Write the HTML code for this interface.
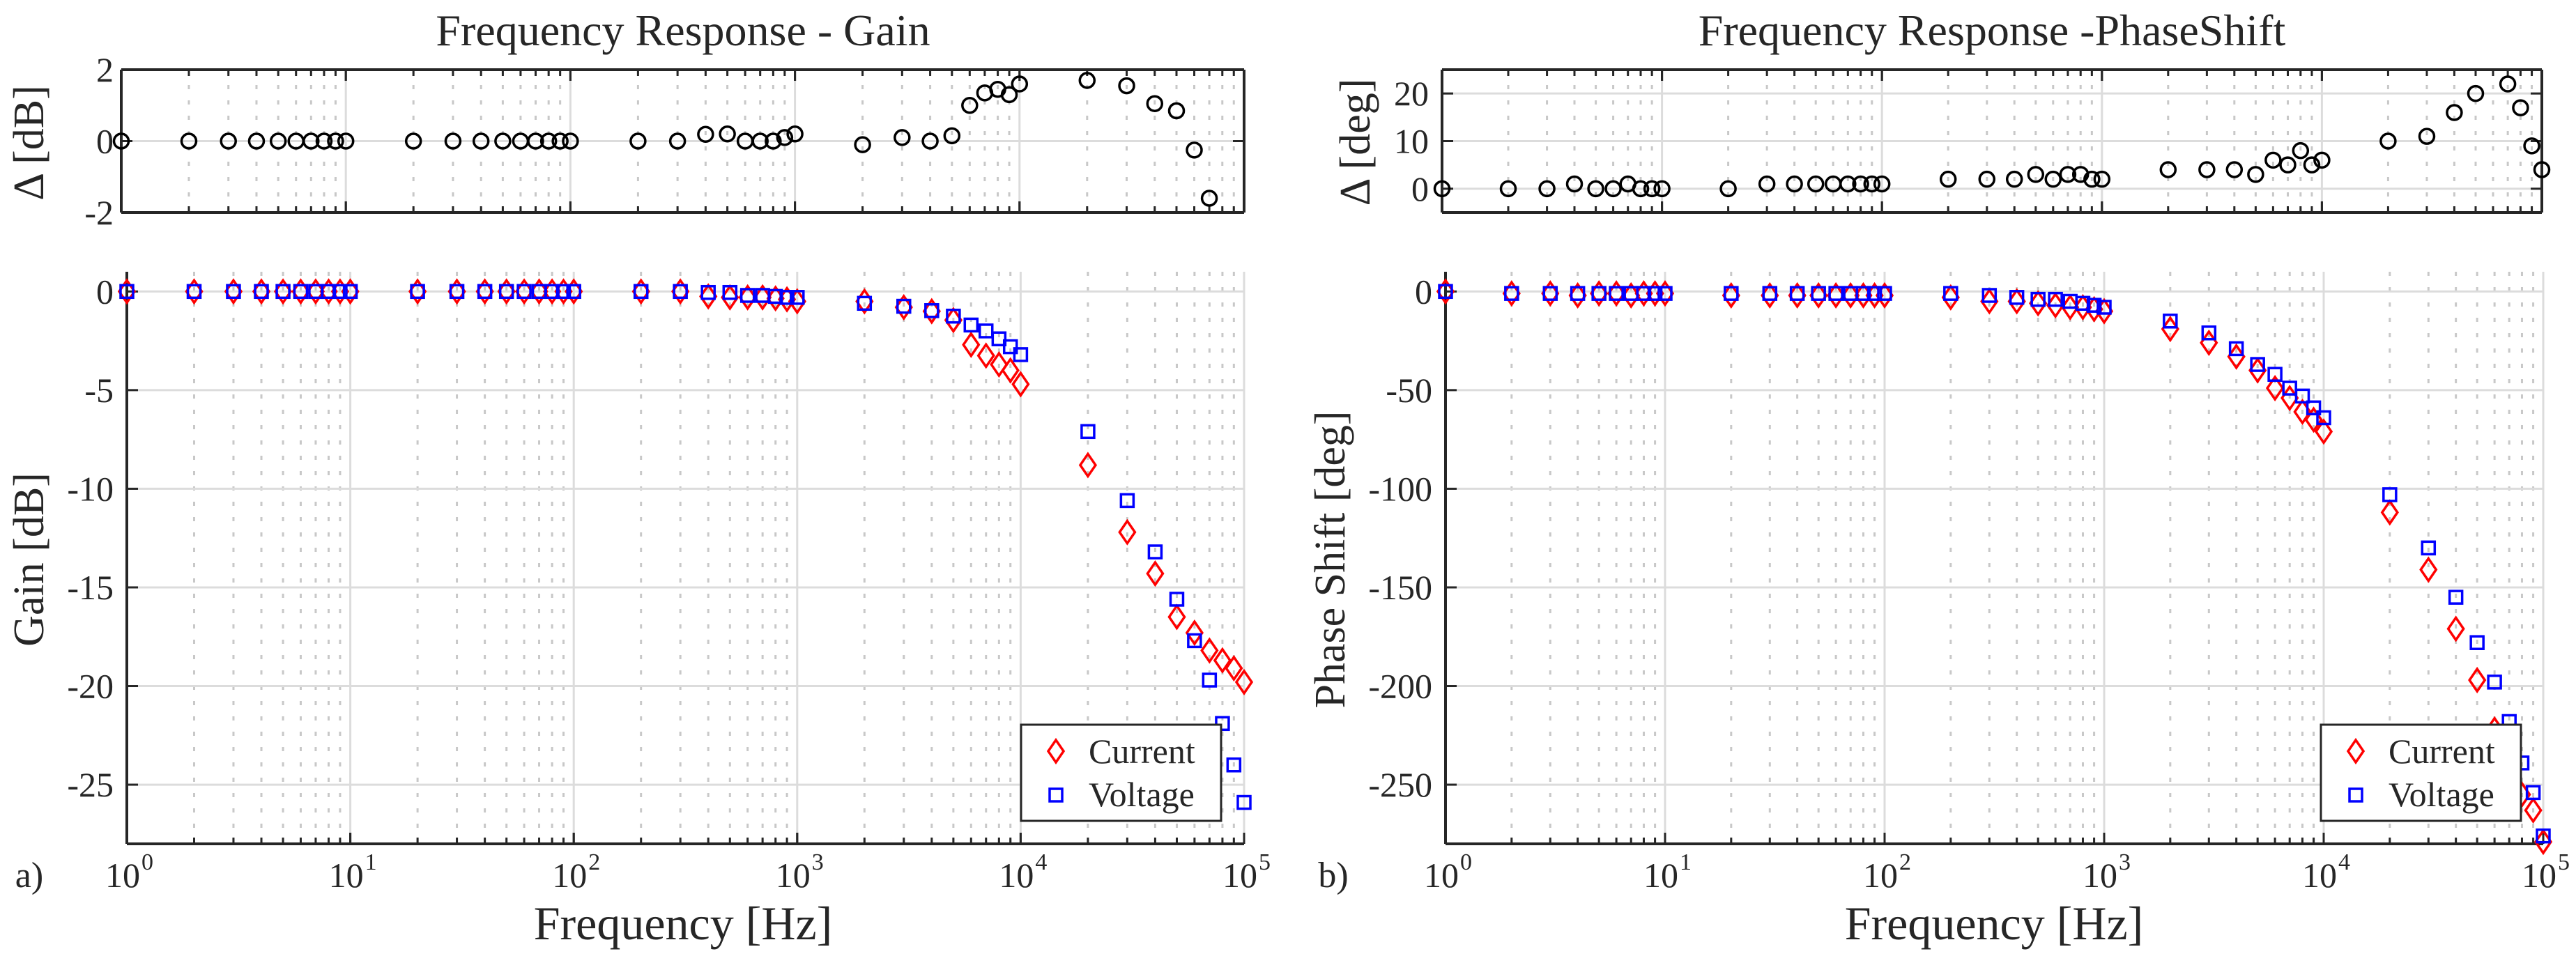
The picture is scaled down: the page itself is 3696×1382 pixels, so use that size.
<!DOCTYPE html>
<html><head><meta charset="utf-8">
<style>
html,body{margin:0;padding:0;background:#fff;}
svg{display:block;}
svg text{font-family:"Liberation Serif","DejaVu Serif",serif;fill:#262626;}
</style></head>
<body>
<svg id="fig" width="3696" height="1382" viewBox="0 0 3696 1382" xmlns="http://www.w3.org/2000/svg" font-family="Liberation Serif, DejaVu Serif, serif"></svg>
<script>
// ---- data ----
const freqs = [1,2,3,4,5,6,7,8,9,10,20,30,40,50,60,70,80,90,100,200,300,400,500,600,700,800,900,1000,2000,3000,4000,5000,6000,7000,8000,9000,10000,20000,30000,40000,50000,60000,70000,80000,90000,100000];
const gainCurrent = [0,0,0,0,0,0,0,0,0,0, 0,0,0,0,0,0,0,0,0, 0,0,-0.25,-0.3,-0.3,-0.3,-0.35,-0.4,-0.5, -0.5,-0.8,-1.0,-1.45,-2.7,-3.25,-3.7,-4.0,-4.7, -8.8,-12.2,-14.3,-16.5,-17.3,-18.2,-18.7,-19.1,-19.8];
const gainVoltage = [0,0,0,0,0,0,0,0,0,0, 0,0,0,0,0,0,0,0,0, 0,0,-0.05,-0.05,-0.2,-0.2,-0.25,-0.3,-0.3, -0.6,-0.75,-0.97,-1.25,-1.7,-2.0,-2.4,-2.8,-3.2, -7.1,-10.6,-13.2,-15.6,-17.7,-19.7,-21.9,-24.0,-25.9];
const phaseCurrent = [0,-1,-1,-2,-1,-1,-2,-1,-1,-1, -2,-2,-2,-2,-2,-2,-2,-2,-2, -3,-5,-5,-6,-7,-8,-8,-9,-10, -19,-26,-33,-40,-49,-54,-61,-65,-71, -112,-141,-171,-197,-222,-240,-255,-263,-279];
const phaseVoltage = [0,-1,-1,-1,-1,-1,-1,-1,-1,-1, -1,-1,-1,-1,-1,-1,-1,-1,-1, -1,-2,-3,-4,-4,-5,-6,-7,-8, -15,-21,-29,-37,-42,-49,-53,-59,-64, -103,-130,-155,-178,-198,-218,-239,-254,-276];
const deltaGainFreqs = [1,2,3,4,5,6,7,8,9,10,20,30,40,50,60,70,80,90,100,200,300,400,500,600,700,800,900,1000,2000,3000,4000,5000,6000,7000,8000,9000,10000,20000,30000,40000,50000,60000,70000];
const deltaGain = [0,0,0,0,0,0,0,0,0,0, 0,0,0,0,0,0,0,0,0, 0,0,0.19,0.2,0,0,0,0.1,0.2, -0.1,0.1,0,0.15,1.0,1.35,1.45,1.3,1.6, 1.7,1.55,1.05,0.85,-0.25,-1.6];
const deltaPhaseFreqs = [1,2,3,4,5,6,7,8,9,10,20,30,40,50,60,70,80,90,100,200,300,400,500,600,700,800,900,1000,2000,3000,4000,5000,6000,7000,8000,9000,10000,20000,30000,40000,50000,70000,80000,90000,100000];
const deltaPhase = [0,0,0,1,0,0,1,0,0,0, 0,1,1,1,1,1,1,1,1, 2,2,2,3,2,3,3,2,2, 4,4,4,3,6,5,8,5,6, 10,11,16,20,22,17,9,4];
const gainTicks = [0,-5,-10,-15,-20,-25];
const phaseTicks = [0,-50,-100,-150,-200,-250];
const deltaGainTicks = [2,0,-2];
const deltaPhaseTicks = [20,10,0];
const decadeExps = [0,1,2,3,4,5];

// ---- helpers ----
const NS = "http://www.w3.org/2000/svg";
const svg = document.getElementById('fig');
const FONT = '"Liberation Serif", "DejaVu Serif", serif';
function mk(tag, attrs, parent){
  const e = document.createElementNS(NS, tag);
  for (const k in attrs) e.setAttribute(k, attrs[k]);
  (parent||svg).appendChild(e);
  return e;
}
function axis(x0,x1,y0,y1,ymin,ymax){
  return {
    x: f => x0 + (Math.log10(f)) / 5 * (x1 - x0),
    y: v => y1 - (v - ymin) / (ymax - ymin) * (y1 - y0),
    x0, x1, y0, y1
  };
}
const AX = "#262626";
function drawFrame(ax, g, yticks, gridVals, box){
  for (let d=0; d<5; d++) for (let m=2; m<=9; m++){
    const xx = ax.x(m*Math.pow(10,d));
    const l = mk('line',{x1:xx,x2:xx,y1:ax.y0,y2:ax.y1,stroke:'#c8c8c8','stroke-width':3,'stroke-dasharray':'6,16'},g);
    
    
  }
  for (const d of decadeExps){
    const xx = ax.x(Math.pow(10,d));
    const l = mk('line',{x1:xx,x2:xx,y1:ax.y0,y2:ax.y1,stroke:'#dcdcdc','stroke-width':3},g);
    
    
  }
  for (const v of gridVals){
    const yy = ax.y(v);
    const l = mk('line',{x1:ax.x0,x2:ax.x1,y1:yy,y2:yy,stroke:'#dcdcdc','stroke-width':3},g);
    
    
  }
  mk('line',{x1:ax.x0,x2:ax.x1,y1:ax.y1,y2:ax.y1,stroke:AX,'stroke-width':4},g);
  mk('line',{x1:ax.x0,x2:ax.x0,y1:ax.y0,y2:ax.y1,stroke:AX,'stroke-width':4},g);
  if (box){
    mk('line',{x1:ax.x0,x2:ax.x1,y1:ax.y0,y2:ax.y0,stroke:AX,'stroke-width':4},g);
    mk('line',{x1:ax.x1,x2:ax.x1,y1:ax.y0,y2:ax.y1,stroke:AX,'stroke-width':4},g);
  }
  for (let d=0; d<5; d++) for (let m=1; m<=10; m++){
    const xx = ax.x(m*Math.pow(10,d));
    const len = (m===1||m===10)?16:9;
    mk('line',{x1:xx,x2:xx,y1:ax.y1,y2:ax.y1-len,stroke:AX,'stroke-width':3},g);
    if (box) mk('line',{x1:xx,x2:xx,y1:ax.y0,y2:ax.y0+len,stroke:AX,'stroke-width':3},g);
  }
  for (const v of yticks){
    const yy = ax.y(v);
    mk('line',{x1:ax.x0,x2:ax.x0+16,y1:yy,y2:yy,stroke:AX,'stroke-width':3},g);
    if (box) mk('line',{x1:ax.x1,x2:ax.x1-16,y1:yy,y2:yy,stroke:AX,'stroke-width':3},g);
  }
}
function txt(g,attrs,s){
  attrs['font-family'] = FONT;
  const t = mk('text',attrs,g);
  t.textContent = s;
  return t;
}
function yLabels(ax, g, vals, rightEdge){
  for (const v of vals){
    const t = txt(g,{x:rightEdge,y:ax.y(v)+17,'text-anchor':'end','font-size':50},(v<0?'-':'') + Math.abs(v));
    
    
  }
}
function xLabels(ax, g){
  for (const d of decadeExps){
    const xx = ax.x(Math.pow(10,d));
    const t = txt(g,{x:xx-6,y:1273,'text-anchor':'middle','font-size':50},'10');
    
    
    const s = txt(g,{x:xx+21,y:1248,'font-size':34},String(d));
    
    
  }
}
function circle(g,x,y){
  const c = mk('circle',{cx:x,cy:y,r:10.5,fill:'none',stroke:'#000','stroke-width':3.5},g);
  
  
}
function diamond(g,x,y,name){
  const p = mk('path',{d:`M${x},${y-16} L${x+11},${y} L${x},${y+16} L${x-11},${y} Z`,fill:'none',stroke:'#ff0000','stroke-width':3.5},g);
  
  
}
function square(g,x,y,name){
  const p = mk('rect',{x:x-9,y:y-9,width:18,height:18,fill:'none',stroke:'#0000ff','stroke-width':3.5},g);
  
  
}
function legend(g,x0,y0){
  const r = mk('rect',{x:x0,y:y0,width:287,height:138,fill:'#fff',stroke:AX,'stroke-width':3},g);
  
  
  diamond(g,x0+50,y0+38,'legend-current-marker');
  square(g,x0+50,y0+101,'legend-voltage-marker');
  const t1 = txt(g,{x:x0+97,y:y0+55,'font-size':50},'Current');
  
  
  const t2 = txt(g,{x:x0+97,y:y0+117,'font-size':50},'Voltage');
  
  
}
function rotLabel(g,x,y,s,size,name){
  const t = txt(g,{x:x,y:y,'text-anchor':'middle','font-size':size,transform:`rotate(-90 ${x} ${y})`},s);
  
  
}
function plainText(g,x,y,s,size,name){
  const t = txt(g,{x:x,y:y,'text-anchor':'middle','font-size':size},s);
  
  
  return t;
}

// ---- left panel ----
const gL = mk('g',{});  
const axDG = axis(174,1785,100,305,-2,2);
drawFrame(axDG,gL,deltaGainTicks,[0],true);
yLabels(axDG,gL,deltaGainTicks,163);
deltaGainFreqs.forEach((f,i)=>circle(gL,axDG.x(f),axDG.y(deltaGain[i])));
const axG = axis(182,1785,390,1211,-28,1);
drawFrame(axG,gL,gainTicks,gainTicks,false);
yLabels(axG,gL,gainTicks,163);
xLabels(axG,gL);
freqs.forEach((f,i)=>diamond(gL,axG.x(f),axG.y(gainCurrent[i])));
freqs.forEach((f,i)=>square(gL,axG.x(f),axG.y(gainVoltage[i])));
legend(gL,1465,1040);
plainText(gL,980,65,'Frequency Response - Gain',64,'gain-title');
rotLabel(gL,62,205,'Δ [dB]',62,'delta-gain-y-axis-title');
rotLabel(gL,62,803,'Gain [dB]',62,'gain-y-axis-title');
plainText(gL,980,1348,'Frequency [Hz]',68,'gain-x-axis-title');
plainText(gL,42,1273,'a)',52,'panel-label-a');

// ---- right panel ----
const gR = mk('g',{});  
const axDP = axis(2069,3647,100,305,-5,25);
drawFrame(axDP,gR,deltaPhaseTicks,deltaPhaseTicks,true);
yLabels(axDP,gR,deltaPhaseTicks,2050);
deltaPhaseFreqs.forEach((f,i)=>circle(gR,axDP.x(f),axDP.y(deltaPhase[i])));
const axP = axis(2074,3649,390,1211,-280,10);
drawFrame(axP,gR,phaseTicks,phaseTicks,false);
yLabels(axP,gR,phaseTicks,2055);
xLabels(axP,gR);
freqs.forEach((f,i)=>diamond(gR,axP.x(f),axP.y(phaseCurrent[i])));
freqs.forEach((f,i)=>square(gR,axP.x(f),axP.y(phaseVoltage[i])));
legend(gR,3330,1040);
plainText(gR,2858,65,'Frequency Response -PhaseShift',64,'phase-title');
rotLabel(gR,1965,204,'Δ [deg]',62,'delta-phase-y-axis-title');
rotLabel(gR,1929,803,'Phase Shift [deg]',62,'phase-y-axis-title');
plainText(gR,2861,1348,'Frequency [Hz]',68,'phase-x-axis-title');
plainText(gR,1913,1273,'b)',52,'panel-label-b');
</script>
</body></html>
